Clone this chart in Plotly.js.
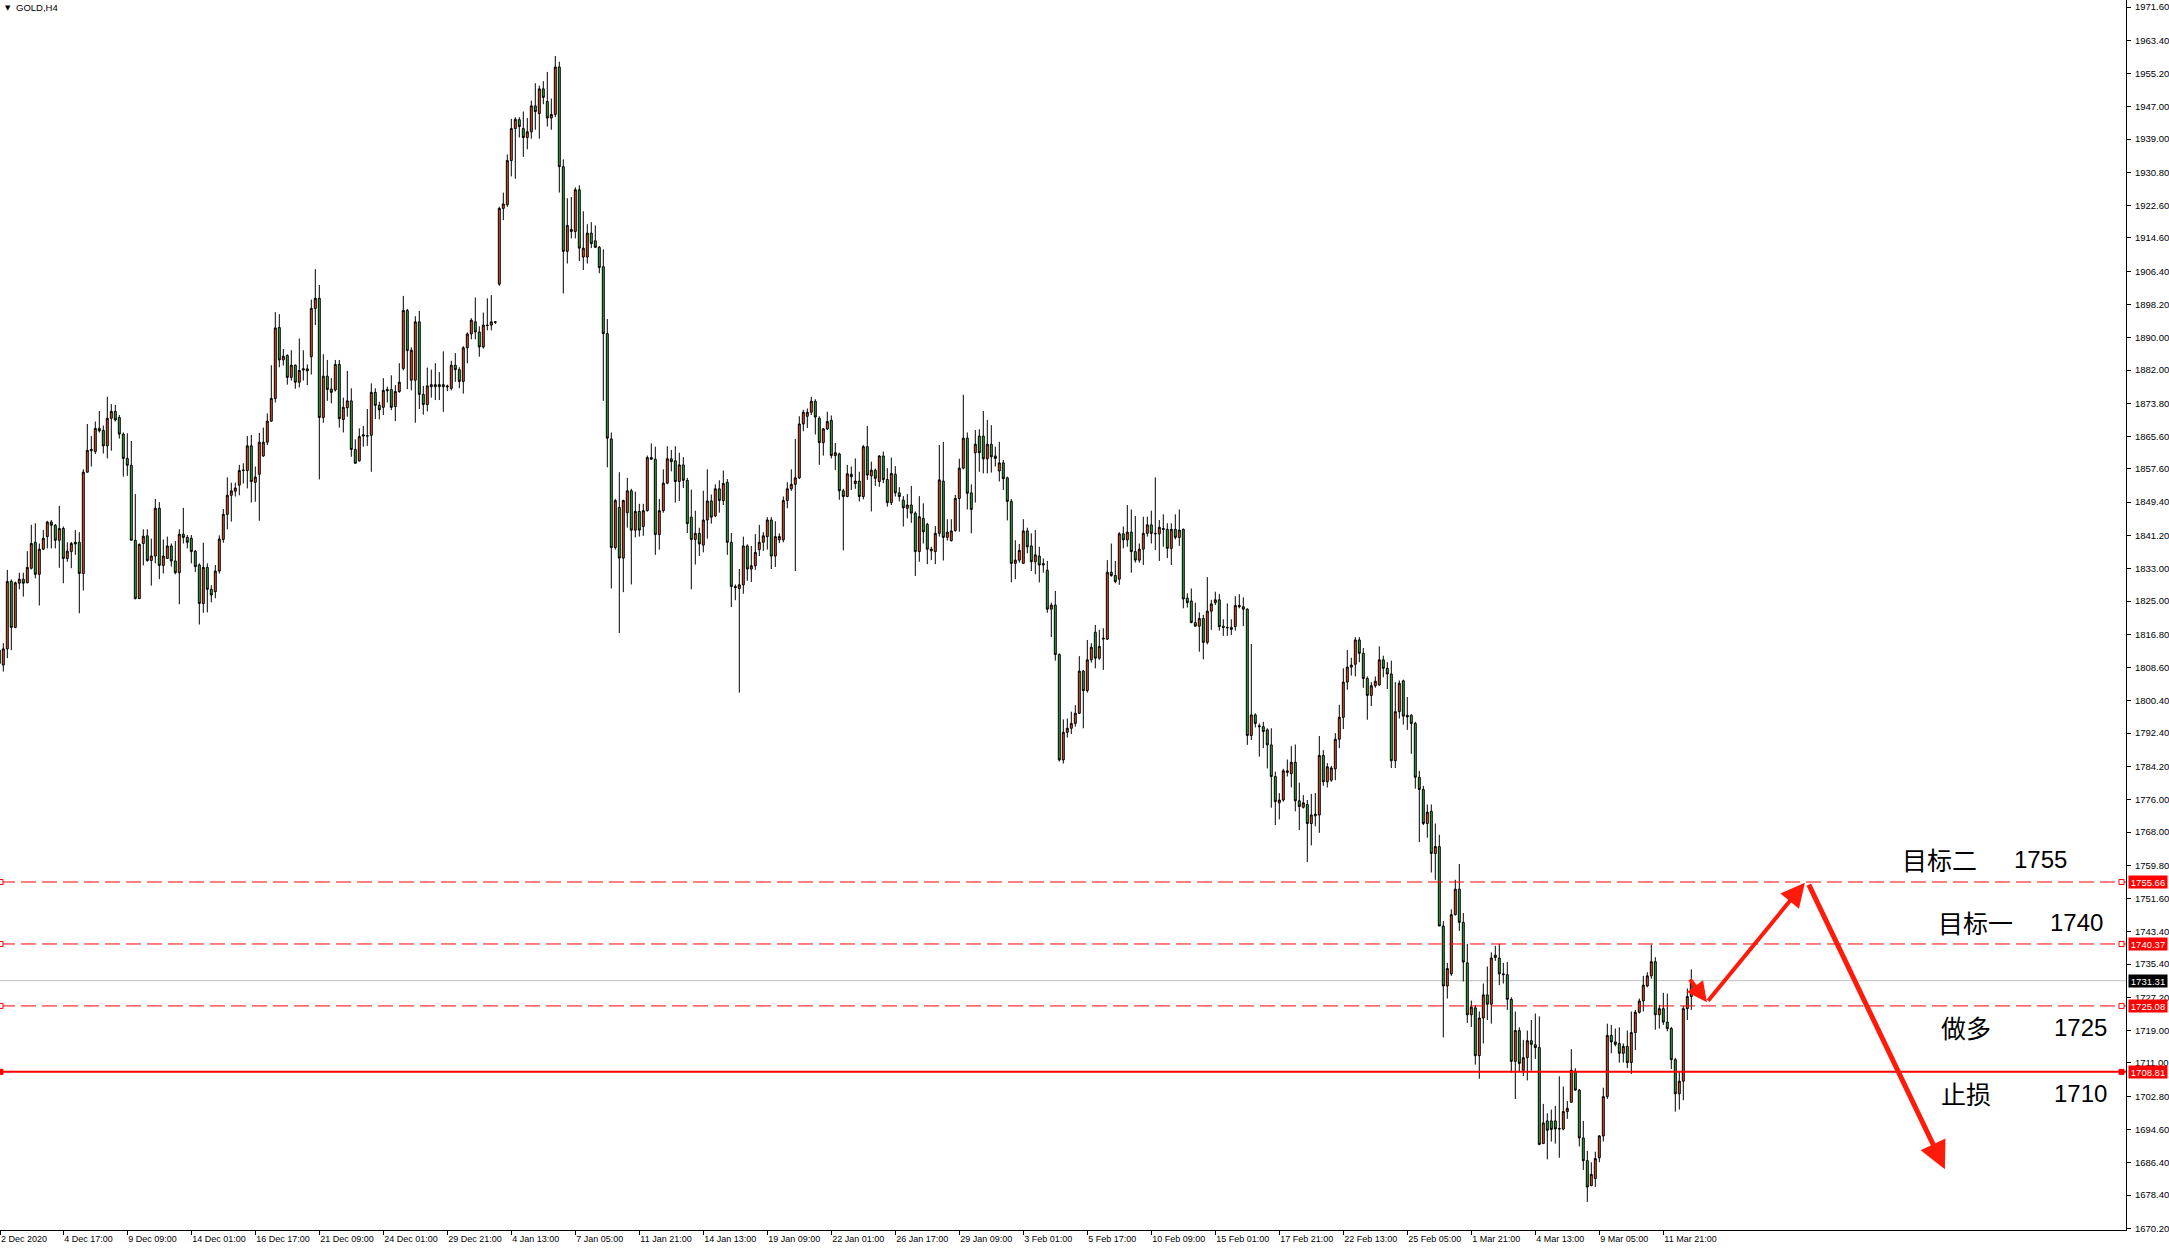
<!DOCTYPE html>
<html>
<head>
<meta charset="utf-8">
<script src="https://cdn.plot.ly/plotly-3.0.1.min.js"></script>
<style>
html,body{margin:0;padding:0;background:#ffffff;}
#chart{width:2169px;height:1250px;}
</style>
</head>
<body>
<div id="chart"></div>
<script>
// ---------------- DATA (GOLD, H4) ----------------
const symbolLabel = 'GOLD,H4';

const openP = [
1812.9,1809.2,1813.2,1829.9,1818.5,1829.4,1830.4,1829.5,1833.1,1839.5,
1831.6,1837.8,1840.9,1844.5,1843.7,1840.0,1842.9,1835.5,1837.2,1839.5,
1839.5,1831.8,1856.8,1862.1,1861.9,1867.6,1867.1,1863.3,1870.1,1871.8,
1870.3,1866.2,1860.2,1858.5,1840.0,1825.6,1839.2,1841.1,1835.0,1836.1,
1847.9,1833.8,1835.5,1838.6,1834.9,1832.0,1841.5,1840.7,1840.5,1837.3,
1833.9,1824.4,1833.3,1827.9,1827.3,1832.4,1840.2,1846.4,1851.1,1852.1,
1853.6,1857.2,1857.2,1863.3,1854.3,1856.3,1860.8,1864.2,1869.4,1875.0,
1892.5,1884.5,1885.6,1880.2,1883.2,1879.0,1882.0,1882.3,1885.3,1897.2,
1899.7,1870.3,1880.5,1877.3,1877.1,1883.4,1869.8,1872.7,1874.4,1862.4,
1859.6,1865.7,1865.7,1865.9,1876.5,1873.3,1872.8,1877.2,1877.2,1873.0,
1876.7,1882.4,1896.7,1879.5,1879.5,1893.9,1876.0,1873.5,1878.4,1878.4,
1877.9,1878.4,1878.1,1877.5,1883.2,1882.1,1879.2,1887.5,1890.9,1893.9,
1891.4,1887.7,1893.1,1893.1,1893.9,1903.2,1921.9,1922.8,1933.7,1941.6,
1943.8,1941.6,1939.4,1940.8,1947.2,1945.3,1951.4,1948.3,1944.2,1945.1,
1956.8,1932.2,1911.3,1916.2,1916.2,1926.5,1909.9,1909.9,1915.8,1913.9,
1912.3,1907.5,1891.0,1865.0,1838.2,1848.1,1835.6,1846.8,1852.2,1842.5,
1847.1,1843.4,1847.3,1860.4,1860.0,1841.4,1847.3,1854.1,1860.1,1859.6,
1854.5,1858.6,1854.8,1845.7,1840.2,1841.7,1838.8,1845.0,1849.7,1846.0,
1852.7,1849.8,1854.3,1839.5,1828.6,1828.1,1829.0,1838.6,1832.9,1833.7,
1837.7,1839.5,1840.9,1845.0,1836.1,1840.1,1840.1,1849.8,1852.7,1853.8,
1855.4,1868.7,1870.6,1871.6,1874.3,1870.1,1864.1,1867.5,1869.6,1860.9,
1861.3,1852.2,1850.8,1856.3,1854.0,1854.6,1850.8,1863.1,1855.9,1857.3,
1854.5,1860.8,1855.0,1849.3,1856.3,1851.7,1849.9,1847.9,1848.7,1846.7,
1837.2,1845.4,1843.9,1837.4,1837.2,1841.7,1854.6,1840.7,1839.9,1842.4,
1850.3,1857.8,1865.2,1851.7,1861.6,1865.7,1865.7,1860.1,1863.7,1860.8,
1857.1,1859.1,1855.4,1849.6,1834.3,1835.1,1834.3,1842.3,1838.6,1834.7,
1836.1,1833.9,1832.6,1823.0,1824.0,1811.8,1785.8,1792.6,1793.6,1794.8,
1797.3,1807.7,1802.9,1810.5,1817.3,1810.9,1815.6,1815.6,1832.1,1831.3,
1830.4,1841.6,1840.1,1842.0,1837.2,1835.1,1837.8,1841.7,1843.8,1841.7,
1841.6,1842.9,1842.7,1838.0,1842.7,1840.7,1842.7,1825.7,1825.0,1819.7,
1818.8,1820.7,1814.8,1822.5,1824.6,1825.3,1818.8,1818.5,1818.5,1818.7,
1823.6,1823.6,1823.0,1791.8,1796.9,1794.2,1794.0,1793.2,1789.5,1781.7,
1775.2,1775.9,1782.7,1782.4,1785.2,1775.7,1774.1,1774.8,1770.1,1772.0,
1772.2,1786.9,1780.4,1780.8,1783.6,1790.9,1796.3,1805.0,1808.7,1809.4,
1815.4,1812.1,1805.9,1801.7,1804.1,1804.3,1810.5,1808.4,1807.0,1785.6,
1797.7,1805.3,1796.8,1796.8,1794.8,1781.5,1778.5,1770.1,1773.1,1762.7,
1764.4,1744.8,1730.0,1733.0,1747.6,1753.9,1745.7,1735.7,1722.9,1724.6,
1712.8,1722.1,1727.8,1725.5,1737.0,1736.9,1733.0,1732.8,1726.7,1711.4,
1719.0,1709.2,1712.3,1716.5,1715.5,1714.8,1691.1,1696.7,1696.7,1696.7,
1694.7,1694.7,1699.0,1701.3,1709.0,1704.3,1692.5,1686.9,1680.7,1682.5,
1687.6,1693.0,1702.7,1717.8,1716.2,1715.8,1713.4,1715.1,1711.1,1718.5,
1723.5,1726.3,1730.0,1732.5,1736.0,1722.9,1724.4,1721.1,1719.5,1711.8,
1703.4,1706.5,1724.4,1727.4
];

const highP = [
1815.4,1814.6,1832.7,1830.3,1829.8,1832.0,1832.0,1837.3,1843.8,1844.2,
1839.2,1842.5,1844.8,1845.0,1844.0,1848.5,1843.4,1839.5,1839.6,1842.5,
1842.0,1857.5,1868.7,1865.7,1869.3,1871.9,1868.3,1875.4,1873.6,1873.4,
1870.9,1866.6,1866.4,1864.5,1851.4,1839.2,1842.7,1842.7,1840.4,1850.2,
1849.4,1840.2,1840.9,1839.2,1839.8,1842.7,1848.0,1841.3,1841.3,1837.6,
1834.3,1839.4,1834.3,1828.9,1833.9,1841.2,1847.7,1855.5,1854.2,1854.2,
1858.6,1859.0,1865.7,1866.0,1858.2,1866.5,1867.8,1871.3,1883.2,1896.3,
1895.8,1887.2,1885.9,1886.9,1883.4,1889.8,1886.9,1883.4,1899.4,1906.9,
1903.0,1885.9,1884.5,1880.0,1884.5,1884.5,1875.2,1881.8,1877.5,1864.9,
1867.6,1868.2,1872.4,1878.7,1877.5,1874.2,1880.0,1877.9,1880.7,1878.3,
1883.7,1900.3,1897.1,1887.6,1895.3,1896.6,1878.1,1882.6,1882.1,1883.7,
1881.5,1886.6,1878.4,1884.3,1886.2,1882.7,1887.9,1891.3,1894.8,1899.9,
1892.8,1896.2,1899.7,1900.5,1894.1,1922.3,1925.8,1935.2,1944.0,1944.4,
1944.4,1945.8,1944.2,1948.5,1952.8,1952.2,1953.3,1955.6,1949.0,1959.5,
1958.1,1934.0,1924.4,1924.7,1927.1,1927.6,1921.2,1918.0,1918.5,1917.7,
1912.6,1911.8,1894.6,1866.6,1850.2,1856.8,1850.0,1855.4,1852.7,1852.0,
1849.0,1849.0,1860.9,1863.9,1863.1,1850.2,1857.5,1863.2,1862.3,1863.2,
1861.6,1860.5,1855.4,1852.5,1847.3,1843.1,1852.2,1857.5,1851.3,1853.8,
1854.8,1857.2,1855.1,1841.8,1829.1,1832.9,1840.9,1839.0,1838.6,1841.5,
1843.8,1842.0,1845.7,1845.7,1844.7,1841.7,1850.8,1854.3,1857.5,1865.0,
1870.6,1872.2,1872.5,1875.4,1874.8,1870.6,1867.7,1871.7,1870.8,1864.0,
1861.6,1852.7,1858.6,1858.2,1860.2,1856.9,1863.5,1868.2,1859.4,1857.7,
1861.0,1861.9,1857.8,1860.4,1858.3,1853.1,1850.9,1851.4,1853.4,1847.1,
1850.9,1849.1,1844.3,1838.4,1843.5,1863.5,1864.3,1845.2,1845.2,1851.2,
1860.1,1875.9,1866.6,1853.8,1867.2,1867.4,1871.9,1869.7,1868.4,1863.1,
1864.3,1859.8,1855.7,1850.2,1840.0,1839.1,1845.2,1843.1,1841.7,1842.5,
1838.4,1835.5,1834.9,1824.6,1827.5,1812.1,1795.8,1796.0,1797.7,1799.3,
1811.4,1808.0,1815.4,1814.6,1819.1,1817.9,1818.3,1835.1,1839.2,1834.9,
1842.0,1843.4,1848.7,1847.6,1846.0,1839.2,1845.8,1845.8,1847.3,1855.5,
1845.0,1846.4,1844.2,1844.2,1846.4,1847.6,1842.9,1826.9,1828.1,1824.6,
1822.2,1821.6,1830.9,1825.3,1827.3,1826.7,1820.5,1824.4,1820.5,1826.2,
1826.7,1825.9,1823.2,1814.4,1797.3,1794.8,1795.2,1793.6,1793.6,1782.9,
1777.6,1783.6,1785.9,1789.2,1789.6,1780.2,1777.1,1775.9,1777.4,1777.6,
1791.7,1788.2,1785.0,1784.3,1792.4,1799.4,1808.4,1812.9,1811.0,1816.1,
1816.1,1813.4,1806.4,1805.0,1806.4,1813.8,1811.5,1809.9,1810.3,1805.0,
1805.4,1805.6,1801.3,1797.1,1795.2,1783.1,1779.4,1774.8,1774.8,1770.1,
1767.3,1746.0,1735.7,1748.9,1756.2,1760.1,1748.0,1740.4,1726.4,1725.3,
1723.7,1730.6,1734.8,1738.3,1739.9,1740.4,1735.7,1735.9,1727.2,1723.7,
1719.8,1716.7,1719.0,1721.6,1723.2,1722.5,1700.9,1698.6,1699.5,1700.4,
1707.7,1705.2,1701.6,1714.4,1709.7,1704.6,1696.7,1689.3,1686.5,1689.1,
1693.2,1704.9,1720.7,1720.4,1719.5,1719.8,1715.8,1719.0,1723.7,1724.1,
1726.9,1732.5,1733.4,1740.2,1737.1,1725.3,1728.3,1728.1,1719.9,1712.3,
1709.0,1725.1,1729.4,1734.1
];

const lowP = [
1807.8,1807.6,1810.9,1812.9,1818.3,1827.9,1826.1,1829.4,1832.8,1830.6,
1823.9,1837.6,1838.0,1838.0,1838.0,1833.2,1829.4,1834.7,1833.1,1836.4,
1822.0,1827.6,1856.7,1858.2,1861.3,1866.6,1861.4,1860.2,1862.1,1869.3,
1865.1,1855.7,1855.9,1840.0,1825.4,1825.6,1833.8,1834.7,1828.8,1834.3,
1830.4,1831.8,1835.4,1833.5,1831.6,1824.2,1839.2,1838.0,1834.3,1832.2,
1819.2,1822.1,1822.2,1824.7,1825.7,1831.8,1839.4,1842.7,1844.6,1850.8,
1851.1,1854.0,1852.8,1849.3,1849.5,1844.8,1860.6,1863.5,1869.3,1874.0,
1882.7,1883.1,1878.4,1879.4,1877.4,1877.7,1879.4,1878.3,1880.9,1893.1,
1855.0,1869.0,1874.4,1873.8,1876.7,1867.8,1866.6,1870.5,1860.6,1859.0,
1859.4,1863.1,1863.3,1856.9,1869.9,1869.8,1870.9,1874.0,1872.1,1869.4,
1876.4,1881.9,1877.3,1877.0,1869.0,1872.4,1871.0,1871.8,1875.2,1874.6,
1874.6,1871.7,1876.8,1877.0,1879.1,1877.5,1876.2,1883.7,1889.6,1889.6,
1885.3,1887.3,1891.8,1891.8,1893.4,1902.8,1919.0,1922.3,1929.8,1929.2,
1939.4,1934.6,1936.5,1939.1,1941.3,1939.1,1947.6,1942.1,1941.3,1944.4,
1925.8,1900.9,1908.3,1914.5,1914.5,1908.9,1906.7,1908.3,1912.1,1912.1,
1905.9,1874.4,1858.0,1828.1,1837.7,1817.1,1827.2,1843.1,1829.1,1840.7,
1840.9,1841.1,1847.1,1859.9,1836.4,1837.7,1846.8,1853.8,1857.0,1849.3,
1849.7,1852.9,1841.8,1827.9,1834.0,1836.1,1837.0,1840.4,1844.1,1845.7,
1846.8,1848.7,1836.4,1823.5,1825.2,1802.4,1826.8,1830.0,1829.7,1832.7,
1836.1,1837.4,1837.7,1832.9,1833.4,1839.3,1839.5,1847.9,1852.2,1832.4,
1855.1,1866.9,1867.7,1870.9,1866.1,1858.6,1860.9,1867.2,1860.2,1857.3,
1850.0,1837.5,1850.6,1852.4,1852.7,1849.6,1850.1,1854.9,1847.1,1853.4,
1853.2,1854.1,1848.3,1848.7,1850.8,1849.6,1843.4,1845.4,1844.3,1831.2,
1834.7,1839.2,1834.1,1835.1,1834.1,1840.9,1835.0,1839.9,1839.7,1842.1,
1842.1,1857.5,1847.6,1841.7,1849.3,1856.9,1856.5,1856.5,1856.7,1858.2,
1854.5,1852.4,1844.9,1829.6,1830.4,1834.5,1834.3,1836.8,1832.4,1831.6,
1829.6,1832.0,1822.1,1816.1,1810.3,1785.4,1784.9,1791.3,1792.2,1794.0,
1797.1,1793.6,1802.4,1809.8,1808.4,1810.5,1808.0,1815.4,1831.0,1829.4,
1829.0,1838.0,1838.4,1832.0,1834.5,1834.5,1833.9,1840.9,1839.2,1837.6,
1834.9,1838.4,1835.6,1833.9,1840.2,1838.6,1823.2,1823.4,1819.5,1818.7,
1812.5,1810.6,1814.3,1817.9,1824.0,1817.7,1816.4,1816.4,1816.6,1817.7,
1823.2,1818.8,1789.5,1790.7,1793.8,1786.6,1788.7,1783.7,1774.0,1769.7,
1771.1,1775.5,1781.7,1779.0,1773.1,1768.5,1773.8,1760.6,1764.7,1769.4,
1767.8,1779.4,1779.0,1780.4,1780.8,1788.7,1793.4,1803.1,1806.6,1806.4,
1809.9,1803.6,1795.7,1799.1,1803.6,1804.1,1806.2,1803.3,1783.8,1783.8,
1796.0,1794.5,1793.2,1787.3,1778.7,1765.5,1769.7,1766.6,1758.0,1756.2,
1744.8,1717.3,1726.9,1732.5,1747.4,1743.6,1731.1,1720.9,1719.9,1710.6,
1707.1,1715.8,1721.6,1720.7,1736.2,1730.2,1730.6,1724.1,1708.6,1702.1,
1708.8,1707.8,1706.7,1709.1,1712.0,1690.7,1691.1,1687.2,1691.6,1691.1,
1687.6,1694.4,1697.2,1701.2,1704.1,1690.4,1684.6,1676.7,1680.7,1680.4,
1686.5,1691.6,1702.1,1713.4,1715.1,1711.1,1711.1,1709.7,1708.3,1714.2,
1723.2,1723.7,1729.7,1731.8,1719.2,1719.5,1720.4,1718.8,1709.5,1699.0,
1699.5,1701.8,1721.6,1724.1
];

const closeP = [
1809.6,1813.2,1829.8,1818.5,1829.5,1830.4,1829.4,1833.3,1839.2,1831.6,
1837.8,1840.5,1844.5,1843.7,1840.0,1842.9,1835.5,1837.3,1839.2,1839.1,
1831.8,1856.8,1862.2,1862.4,1867.6,1867.0,1863.3,1870.1,1871.8,1869.7,
1866.2,1860.2,1858.5,1840.0,1825.6,1839.0,1841.0,1835.0,1836.1,1847.9,
1833.8,1836.1,1838.6,1834.9,1832.0,1841.5,1840.7,1839.5,1837.2,1833.5,
1824.4,1833.3,1827.9,1826.5,1832.4,1840.3,1846.4,1851.1,1852.2,1852.9,
1857.2,1857.3,1863.3,1854.5,1855.6,1864.2,1864.2,1869.4,1875.0,1892.4,
1884.5,1885.4,1880.2,1883.2,1879.0,1881.9,1882.3,1881.8,1897.2,1899.7,
1870.3,1880.5,1877.2,1876.5,1883.4,1870.0,1872.8,1874.4,1862.4,1859.0,
1865.6,1866.0,1865.8,1876.5,1873.3,1872.2,1877.0,1876.9,1872.8,1876.7,
1879.0,1896.7,1886.8,1886.9,1893.9,1876.0,1873.5,1878.1,1877.9,1877.9,
1878.4,1877.9,1877.9,1883.2,1882.1,1879.2,1887.5,1890.9,1894.3,1891.4,
1887.7,1893.1,1893.0,1893.9,1893.8,1921.9,1923.0,1933.7,1941.6,1943.9,
1942.1,1939.4,1940.8,1947.2,1945.8,1951.4,1949.3,1944.2,1945.1,1956.8,
1932.2,1911.3,1917.7,1916.7,1926.5,1912.1,1912.1,1915.8,1913.2,1912.3,
1907.3,1891.0,1865.2,1838.2,1849.8,1835.6,1849.8,1852.2,1842.5,1847.1,
1842.5,1847.3,1860.4,1860.0,1841.4,1847.3,1854.1,1860.1,1859.4,1854.5,
1858.6,1854.8,1844.1,1840.2,1841.7,1839.1,1845.0,1849.7,1845.7,1852.7,
1849.8,1854.0,1839.5,1828.6,1828.3,1829.0,1838.6,1832.9,1833.7,1837.0,
1839.5,1841.1,1845.0,1836.1,1840.9,1840.9,1849.8,1852.7,1853.8,1855.4,
1868.7,1871.6,1871.6,1874.3,1870.4,1864.1,1867.5,1869.3,1860.9,1861.6,
1852.2,1850.8,1856.4,1855.7,1854.6,1850.8,1863.1,1856.1,1857.3,1855.3,
1860.8,1855.0,1849.3,1856.5,1851.7,1850.8,1848.0,1848.7,1846.7,1837.2,
1845.8,1842.1,1837.8,1837.8,1841.7,1854.9,1840.7,1842.0,1842.3,1850.3,
1857.8,1865.2,1851.6,1847.6,1863.7,1861.6,1860.1,1863.7,1860.6,1860.2,
1859.1,1855.2,1849.6,1834.3,1835.1,1837.5,1842.3,1838.4,1834.7,1836.4,
1833.9,1834.2,1823.0,1824.0,1811.8,1785.8,1792.6,1793.6,1794.8,1797.3,
1807.7,1802.9,1810.5,1813.6,1810.9,1813.8,1815.8,1832.1,1831.3,1829.8,
1841.6,1840.1,1842.0,1837.2,1835.1,1837.8,1841.7,1843.8,1841.7,1841.6,
1843.2,1842.7,1838.0,1842.7,1840.7,1842.5,1825.5,1824.6,1819.7,1818.8,
1820.7,1814.8,1822.5,1824.3,1825.3,1818.7,1818.5,1818.4,1818.0,1823.9,
1823.9,1823.0,1791.8,1796.9,1794.8,1794.0,1792.8,1789.5,1781.7,1775.5,
1775.9,1783.1,1783.1,1785.2,1775.7,1774.3,1775.2,1770.1,1772.2,1772.4,
1786.9,1780.4,1784.1,1783.8,1790.9,1796.3,1805.0,1808.7,1809.2,1815.4,
1812.1,1805.9,1801.7,1804.1,1805.2,1810.5,1808.4,1807.0,1785.6,1797.7,
1804.7,1796.6,1796.4,1794.8,1781.5,1778.5,1770.1,1772.9,1762.7,1764.4,
1744.8,1730.0,1734.3,1747.6,1753.9,1745.7,1735.9,1722.9,1724.8,1712.8,
1722.1,1727.8,1725.5,1736.9,1737.6,1733.0,1732.8,1726.7,1711.4,1719.0,
1710.9,1712.3,1716.5,1715.6,1714.8,1690.9,1696.2,1694.4,1694.6,1694.7,
1694.8,1699.0,1699.8,1709.2,1704.3,1692.5,1686.9,1680.4,1683.5,1687.4,
1693.0,1702.7,1717.8,1716.2,1715.6,1713.4,1715.1,1711.1,1718.5,1723.5,
1726.3,1730.2,1732.5,1736.0,1722.9,1724.4,1721.1,1719.5,1711.8,1703.4,
1706.5,1724.4,1727.4,1731.3
];

// time-axis labels, one every 16 H4 bars
const dateLabels = ['2 Dec 2020','4 Dec 17:00','9 Dec 09:00','14 Dec 01:00','16 Dec 17:00',
  '21 Dec 09:00','24 Dec 01:00','29 Dec 21:00','4 Jan 13:00','7 Jan 05:00','11 Jan 21:00',
  '14 Jan 13:00','19 Jan 09:00','22 Jan 01:00','26 Jan 17:00','29 Jan 09:00','3 Feb 01:00',
  '5 Feb 17:00','10 Feb 09:00','15 Feb 01:00','17 Feb 21:00','22 Feb 13:00','25 Feb 05:00',
  '1 Mar 21:00','4 Mar 13:00','9 Mar 05:00','11 Mar 21:00'];
const barsPerLabel = 16;

// price scale labels
const priceTicks = [1971.60,1963.40,1955.20,1947.00,1939.00,1930.80,1922.60,1914.60,1906.40,
  1898.20,1890.00,1882.00,1873.80,1865.60,1857.60,1849.40,1841.20,1833.00,1825.00,1816.80,
  1808.60,1800.40,1792.40,1784.20,1776.00,1768.00,1759.80,1751.60,1743.40,1735.40,1727.20,
  1719.00,1711.00,1702.80,1694.60,1686.40,1678.40,1670.20];

// horizontal levels
const levelPrices = [1755.66, 1740.37, 1725.08, 1708.81];
const levelKinds  = ['dash','dash','dash','solid'];
const bidPrice = 1731.31;

// plan text
const planNames  = ['目标二','目标一','做多','止损'];
const planValues = ['1755','1740','1725','1710'];

// drawn arrows: [tailBar, headBar] and [tailPrice, headPrice]
const arrowBars   = [[422.4, 426.9], [426.9, 451.4], [452.2, 486.4]];
const arrowPrices = [[1732.0, 1726.0], [1726.0, 1755.5], [1755.4, 1684.8]];

// ---------------- STYLE / LAYOUT ----------------
const W = 2169, H = 1250;
const M = {l:0, r:43, t:0, b:20};
const plotW = W - M.l - M.r, plotH = H - M.t - M.b;
const xRange = [0.175, 0.175 + plotW / 4];
const yRange = [1669.78, 1973.33];
const upFill = '#E5541F';
const downFill = '#3AAA3A';
const red = '#FF0000';
const axisFamily = 'Liberation Sans, Arial, sans-serif';
const yFont = {family:axisFamily, size:9.5, color:'#000'};
const xFont = {family:axisFamily, size:9, color:'#000'};

const idx = openP.map((_, i) => i);

const candle = {
  type:'candlestick', x: idx, open: openP, high: highP, low: lowP, close: closeP,
  increasing:{line:{color:'#000000', width:1}, fillcolor: upFill},
  decreasing:{line:{color:'#000000', width:1}, fillcolor: downFill},
  whiskerwidth: 0, hoverinfo:'skip', showlegend:false
};

const tickPos = dateLabels.map((_, i) => Math.max(i * barsPerLabel, xRange[0] + 0.01));

const shapes = [];
const annotations = [];

// bid line
shapes.push({type:'line', xref:'paper', x0:0, x1:1, yref:'y', y0:bidPrice, y1:bidPrice,
  line:{color:'#C0C0C0', width:1}, layer:'below'});

levelPrices.forEach((p, i) => {
  const solid = levelKinds[i] === 'solid';
  shapes.push({type:'line', xref:'paper', x0:0, x1:1, yref:'y', y0:p, y1:p,
    line:{color:red, width: solid ? 2 : 1, dash: solid ? 'solid' : '15px,6px'}});
  [[1, -7, -2], [0, -2, 3]].forEach(([ax, a, b]) => {
    shapes.push({type:'rect', xref:'paper', xsizemode:'pixel', xanchor:ax, x0:a, x1:b,
      yref:'y', ysizemode:'pixel', yanchor:p, y0:-2.5, y1:2.5,
      line:{color:red, width:1}, fillcolor: solid ? red : '#FFFFFF'});
  });
  annotations.push({xref:'paper', x:1, xanchor:'left', xshift:2, yref:'y', y:p, yanchor:'middle',
    text: p.toFixed(2), showarrow:false, bgcolor:red, width:38, height:12, borderpad:0,
    font:{family:axisFamily, size:9.5, color:'#FFFFFF'}, align:'center'});
});
annotations.push({xref:'paper', x:1, xanchor:'left', xshift:2, yref:'y', y:bidPrice, yanchor:'middle',
  text: bidPrice.toFixed(2), showarrow:false, bgcolor:'#000000', width:38, height:12, borderpad:0,
  font:{family:axisFamily, size:9.5, color:'#FFFFFF'}, align:'center'});

// plan texts (pixel positions of the label blocks)
const planNameX = [1900, 1936, 1939, 1939];
const planValX  = [2012, 2048, 2052, 2052];
const planY     = [859, 922, 1027, 1093];
planNames.forEach((t, i) => {
  annotations.push({xref:'paper', x: planNameX[i] / plotW, xanchor:'left', yref:'paper',
    y: 1 - planY[i] / plotH, yanchor:'middle', text:t, showarrow:false,
    font:{family:'Noto Sans CJK SC, sans-serif', size:25, color:'#000'}});
  annotations.push({xref:'paper', x: planValX[i] / plotW, xanchor:'left', yref:'paper',
    y: 1 - planY[i] / plotH, yanchor:'middle', text:planValues[i], showarrow:false,
    font:{family:'Liberation Sans, Arial, sans-serif', size:24, color:'#000'}});
});

// arrows
const arrowWidths = [4, 4, 5];
const arrowSizes  = [1.0, 1.2, 1.1];
arrowBars.forEach((b, i) => {
  annotations.push({x:b[1], y:arrowPrices[i][1], xref:'x', yref:'y',
    ax:b[0], ay:arrowPrices[i][0], axref:'x', ayref:'y', text:'', showarrow:true,
    arrowhead:2, arrowsize:arrowSizes[i], arrowwidth:arrowWidths[i], arrowcolor:'#FF1A0A', standoff:0});
});

// symbol title
annotations.push({xref:'paper', yref:'paper', x:3/plotW, y:1-2/plotH, xanchor:'left', yanchor:'top',
  text:'▼', showarrow:false, font:{family:'DejaVu Sans', size:7, color:'#000'}});
annotations.push({xref:'paper', yref:'paper', x:14/plotW, y:1, xanchor:'left', yanchor:'top',
  text:symbolLabel, showarrow:false, font:{family:axisFamily, size:9.5, color:'#000'}});

const layout = {
  width:W, height:H, margin:M,
  paper_bgcolor:'#FFFFFF', plot_bgcolor:'#FFFFFF',
  showlegend:false, dragmode:false,
  boxgap:0.3, boxgroupgap:0.3,
  xaxis:{range:xRange, type:'linear', showgrid:false, zeroline:false,
    showline:true, linecolor:'#000', linewidth:1,
    ticks:'outside', ticklen:4, tickcolor:'#000', tickwidth:1,
    tickvals: tickPos, ticktext: dateLabels, tickangle:0, ticklabelposition:'outside right',
    tickfont: xFont, rangeslider:{visible:false}, fixedrange:true},
  yaxis:{range:yRange, side:'right', showgrid:false, zeroline:false,
    showline:true, linecolor:'#000', linewidth:1,
    ticks:'outside', ticklen:4, tickcolor:'#000', tickwidth:1,
    tickvals: priceTicks, ticktext: priceTicks.map(v => v.toFixed(2)),
    tickfont: yFont, ticklabelstandoff:2, fixedrange:true},
  shapes: shapes,
  annotations: annotations
};

Plotly.newPlot('chart', [candle], layout, {staticPlot:true, displayModeBar:false});
</script>
</body>
</html>
